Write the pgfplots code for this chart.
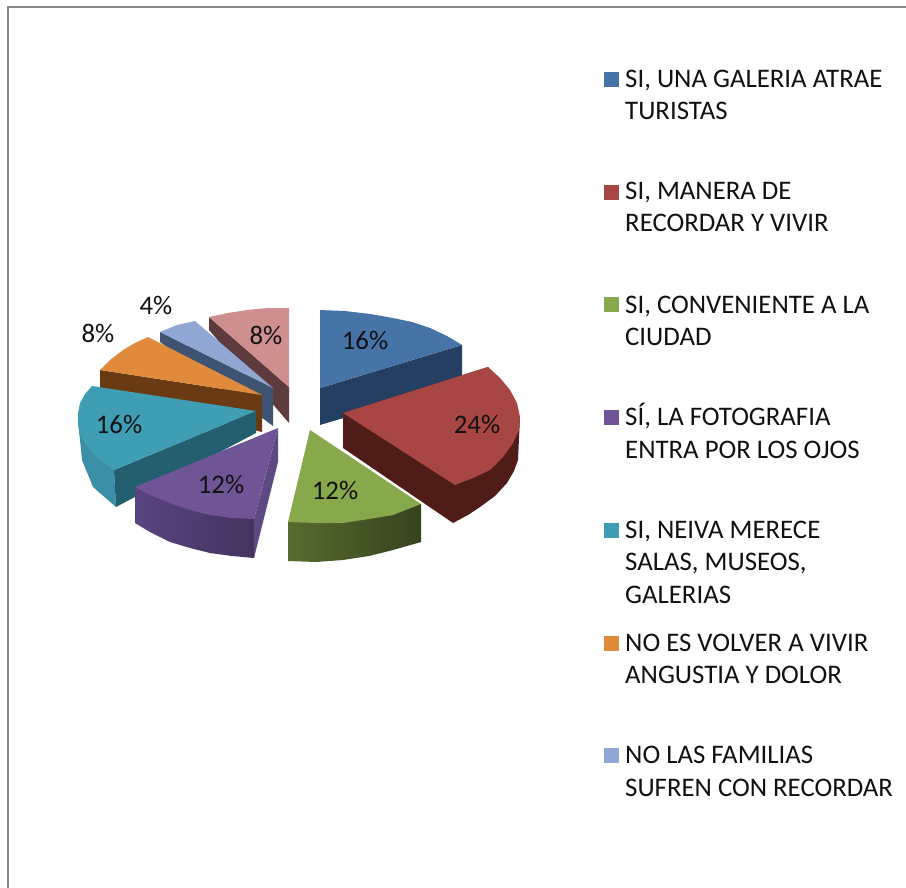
\documentclass[border=0pt]{standalone}
\usepackage{fontspec}
\setmainfont{Carlito}
\usepackage{pgfplots}
\pgfplotsset{compat=1.18}
\definecolor{cBlue}{HTML}{4674A8}\definecolor{wBlue}{HTML}{243F62}
\definecolor{cRed}{HTML}{A84644}\definecolor{wRed}{HTML}{4F1C18}
\definecolor{cGreen}{HTML}{88A84C}\definecolor{wGreenA}{HTML}{566C30}\definecolor{wGreenB}{HTML}{36431C}
\definecolor{cPurple}{HTML}{6F5596}\definecolor{wPurpleA}{HTML}{58447F}\definecolor{wPurpleB}{HTML}{45335F}\definecolor{wPurpleC}{HTML}{5E4A82}
\definecolor{cTeal}{HTML}{3F9DB4}\definecolor{wTeal}{HTML}{235F6E}\definecolor{wTealO}{HTML}{3A8FA6}
\definecolor{cOrange}{HTML}{DF8B3B}\definecolor{wOrange}{HTML}{6A3A12}
\definecolor{cLblue}{HTML}{8FA7D2}\definecolor{wLblue}{HTML}{3E5472}
\definecolor{cPink}{HTML}{CE8F8E}\definecolor{wPink}{HTML}{5E3C3E}
\definecolor{frameC}{HTML}{868686}
\definecolor{txt}{HTML}{111111}
\newcommand{\lgl}[3]{\node[anchor=base west,inner sep=0pt,text=txt,font=\fontsize{26.8}{30}\selectfont] at (axis cs:#1,#2) {#3};}
\newcommand{\pct}[3]{\node[anchor=base,inner sep=0pt,text=txt,font=\fontsize{26.8}{30}\selectfont] at (axis cs:#1,#2) {#3};}
\begin{document}
\begin{tikzpicture}
\begin{axis}[scale only axis,width=906pt,height=888pt,xmin=0,xmax=906,ymin=0,ymax=888,y dir=reverse,hide axis,clip=true]
\addplot[fill=white,draw=none] coordinates {(0,0) (906,0) (906,888) (0,888)} -- cycle;
% frame
\addplot[draw=frameC,line width=2pt] coordinates {(8,888) (8,7) (906,7)};
% pink
\addplot[fill=wPink,draw=none] coordinates {(209,317) (289,387) (289,423) (209,330)} -- cycle;
\addplot[fill=cPink,draw=none] coordinates {(289,387) (289,308) (268,308) (247,310) (228,313) (209,317)} -- cycle;
% light blue
\addplot[fill=wLblue,draw=none] coordinates {(160,332) (273,388) (273,426) (160,342)} -- cycle;
\addplot[fill=cLblue,draw=none] coordinates {(273,388) (195,321) (177,325) (160,332)} -- cycle;
% orange
\addplot[fill=wOrange,draw=none] coordinates {(100,370) (262,395) (262,432) (100,392)} -- cycle;
\addplot[fill=cOrange,draw=none] coordinates {(262,395) (148,337) (135,343) (123,350) (110,360) (100,370)} -- cycle;
% teal
\addplot[fill=wTealO,draw=none] coordinates {(78,423) (80,440) (82,460) (93,487) (116,507) (114,470)} -- cycle;
\addplot[fill=wTeal,draw=none] coordinates {(114,470) (256,411) (256,433) (116,507)} -- cycle;
\addplot[fill=cTeal,draw=none] coordinates {(256,411) (92,386) (85,394) (80,403) (78,413) (78,423) (80,434) (85,443) (90,450) (97,457) (105,464) (114,470)} -- cycle;
% blue
\addplot[fill=wBlue,draw=none] coordinates {(320,388) (462,345) (462,383) (320,425)} -- cycle;
\addplot[fill=cBlue,draw=none] coordinates {(320,388) (320,310) (345,311) (370,314) (393,318) (412,322) (430,328) (447,336) (462,345)} -- cycle;
% red
\addplot[fill=wRed,draw=none] coordinates {(343,413) (343,448) (453,523) (468,515) (480,507) (495,496) (507,483) (514,471) (518,460) (520,417) (488,367)} -- cycle;
\addplot[fill=cRed,draw=none] coordinates {(343,413) (488,367) (500,378) (510,390) (517,403) (520,417) (519,430) (513,443) (503,457) (490,470) (473,478) (455,485)} -- cycle;
% green
\addplot[left color=wGreenA,right color=wGreenB,draw=none] coordinates {(288,522) (288,561) (316,562) (343,560) (369,556) (393,550) (421,542) (421,504)} -- cycle;
\addplot[fill=cGreen,draw=none] coordinates {(310,430) (421,504) (393,515) (369,519) (343,523) (316,523) (288,522)} -- cycle;
% purple
\addplot[left color=wPurpleA,right color=wPurpleB,draw=none] coordinates {(135,487) (135,523) (150,532) (170,542) (190,548) (210,553) (232,556) (254,558) (254,519)} -- cycle;
\addplot[fill=wPurpleC,draw=none] coordinates {(278,428) (278,462) (254,558) (254,519)} -- cycle;
\addplot[fill=cPurple,draw=none] coordinates {(278,428) (254,519) (232,518) (210,515) (190,510) (170,503) (152,496) (135,487)} -- cycle;
% legend keys
\addplot[fill=cBlue,draw=none] coordinates {(604,72) (619,72) (619,87) (604,87)} -- cycle;
\addplot[fill=cRed,draw=none] coordinates {(604,185) (619,185) (619,200) (604,200)} -- cycle;
\addplot[fill=cGreen,draw=none] coordinates {(604,297) (619,297) (619,312) (604,312)} -- cycle;
\addplot[fill=cPurple,draw=none] coordinates {(604,410) (619,410) (619,425) (604,425)} -- cycle;
\addplot[fill=cTeal,draw=none] coordinates {(604,523) (619,523) (619,538) (604,538)} -- cycle;
\addplot[fill=cOrange,draw=none] coordinates {(604,636) (619,636) (619,651) (604,651)} -- cycle;
\addplot[fill=cLblue,draw=none] coordinates {(604,748) (619,748) (619,763) (604,763)} -- cycle;
% legend text
\lgl{625}{88}{SI, UNA GALERIA ATRAE}
\lgl{625}{120}{TURISTAS}
\lgl{625}{200}{SI, MANERA DE}
\lgl{625}{232}{RECORDAR Y VIVIR}
\lgl{625}{313}{SI, CONVENIENTE A LA}
\lgl{625}{345}{CIUDAD}
\lgl{625}{425}{SÍ, LA FOTOGRAFIA}
\lgl{625}{458}{ENTRA POR LOS OJOS}
\lgl{625}{538}{SI, NEIVA MERECE}
\lgl{625}{570}{SALAS, MUSEOS,}
\lgl{625}{603}{GALERIAS}
\lgl{625}{651}{NO ES VOLVER A VIVIR}
\lgl{625}{683}{ANGUSTIA Y DOLOR}
\lgl{625}{763}{NO LAS FAMILIAS}
\lgl{625}{796}{SUFREN CON RECORDAR}
% data labels
\pct{365}{349}{16\%}
\pct{477}{433}{24\%}
\pct{335}{499}{12\%}
\pct{221}{493}{12\%}
\pct{119}{433}{16\%}
\pct{98}{342}{8\%}
\pct{156}{314}{4\%}
\pct{266}{344}{8\%}
\end{axis}
\end{tikzpicture}
\end{document}
